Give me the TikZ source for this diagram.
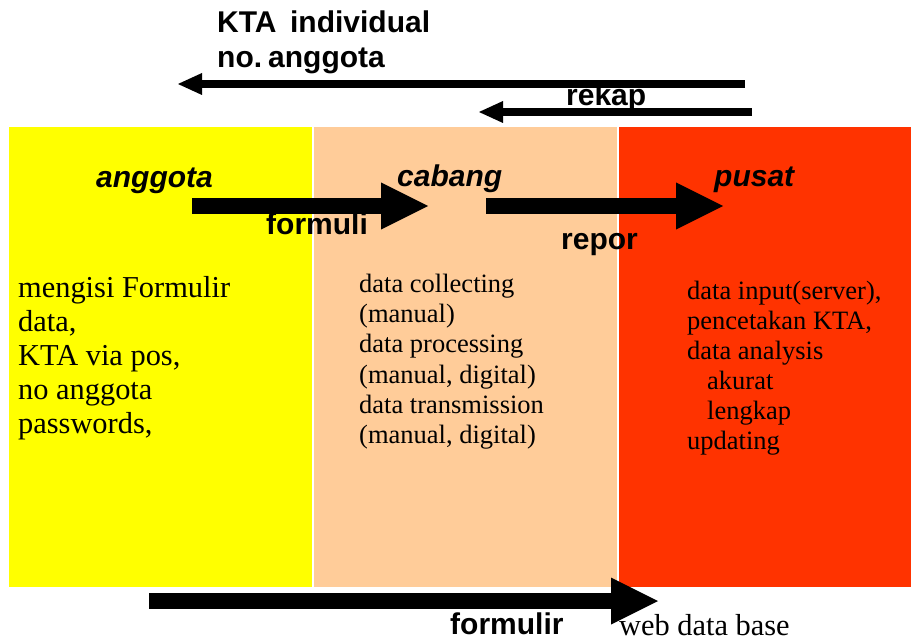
\documentclass[tikz,border=0pt]{standalone}
\usepackage{fontspec}
\setmainfont{Liberation Serif}
\setsansfont{Liberation Sans}
\usetikzlibrary{arrows.meta}
\definecolor{cyellow}{HTML}{FFFF00}
\definecolor{cpeach}{HTML}{FFCC99}
\definecolor{cred}{HTML}{FF3300}
\begin{document}
\begin{tikzpicture}[x=1bp,y=-1bp,
  panel/.style={fill=#1, draw=none},
  lbl/.style={anchor=base west, inner sep=0pt, font=\sffamily\bfseries\fontsize{30bp}{34bp}\selectfont},
  head/.style={anchor=base west, inner sep=0pt, font=\sffamily\bfseries\itshape\fontsize{30bp}{34bp}\selectfont},
  ltxt/.style={anchor=base west, inner sep=0pt, font=\rmfamily\fontsize{30.4bp}{34bp}\selectfont},
  mtxt/.style={anchor=base west, inner sep=0pt, font=\rmfamily\fontsize{26.5bp}{30bp}\selectfont},
  thinarrow/.style={line width=8bp, -{Triangle[length=24bp,width=22bp,line width=0pt]}},
  fatarrow/.style={line width=16bp, -{Triangle[length=47bp,width=47bp,line width=0pt]}}
]
\useasboundingbox (0,0) rectangle (911,641);
% panels
\fill[panel=cyellow] (9,127) rectangle (312,587);
\fill[panel=cpeach] (314,127) rectangle (617,587);
\fill[panel=cred] (619,127) rectangle (911,587);

% top labels and arrows
\node[lbl] (kta) at (217,33) {KTA\hspace{0.45em}individual};
\node[lbl] (noang) at (217,68) {no.\hspace{0.2em}anggota};
\node[lbl] (rekap) at (566,106) {rekap};
\coordinate (a1s) at (745,84);
\coordinate (a1e) at (178,84);
\coordinate (a2s) at (752,112);
\coordinate (a2e) at (479,112);
\draw[thinarrow] (a1s) -- (a1e);
\draw[thinarrow] (a2s) -- (a2e);

% headers
\node[head] (anggota) at (96,188) {anggota};
\node[head] (cabang) at (397,187) {cabang};
\node[head] (pusat) at (714,187) {pusat};

% flow arrows
\coordinate (a3s) at (192,206);
\coordinate (a3e) at (428,206);
\coordinate (a4s) at (486,206);
\coordinate (a4e) at (723,206);
\draw[fatarrow] (a3s) -- (a3e);
\draw[fatarrow] (a4s) -- (a4e);
\node[lbl] (formuli) at (266,235) {formuli};
\node[lbl] (repor) at (561,250) {repor};

% left text
\node[ltxt] (l1) at (18,297) {mengisi Formulir};
\node[ltxt] (l2) at (18,331) {data,};
\node[ltxt] (l3) at (18,365) {KTA via pos,};
\node[ltxt] (l4) at (18,399) {no anggota};
\node[ltxt] (l5) at (18,433) {passwords,};

% middle text
\node[mtxt] (m1) at (359,292) {data collecting};
\node[mtxt] (m2) at (359,322) {(manual)};
\node[mtxt] (m3) at (359,352) {data processing};
\node[mtxt] (m4) at (359,383) {(manual, digital)};
\node[mtxt] (m5) at (359,413) {data transmission};
\node[mtxt] (m6) at (359,443) {(manual, digital)};

% right text
\node[mtxt] (r1) at (687,299) {data input(server),};
\node[mtxt] (r2) at (687,329) {pencetakan KTA,};
\node[mtxt] (r3) at (687,359) {data analysis};
\node[mtxt] (r4) at (707,389) {akurat};
\node[mtxt] (r5) at (707,419) {lengkap};
\node[mtxt] (r6) at (687,449) {updating};

% bottom arrow
\coordinate (a5s) at (149,601);
\coordinate (a5e) at (658,601);
\draw[fatarrow] (a5s) -- (a5e);
\node[lbl] (formulir) at (450,634) {formulir};
\node[ltxt] (web) at (619,635) {web data base};
\end{tikzpicture}
\end{document}
